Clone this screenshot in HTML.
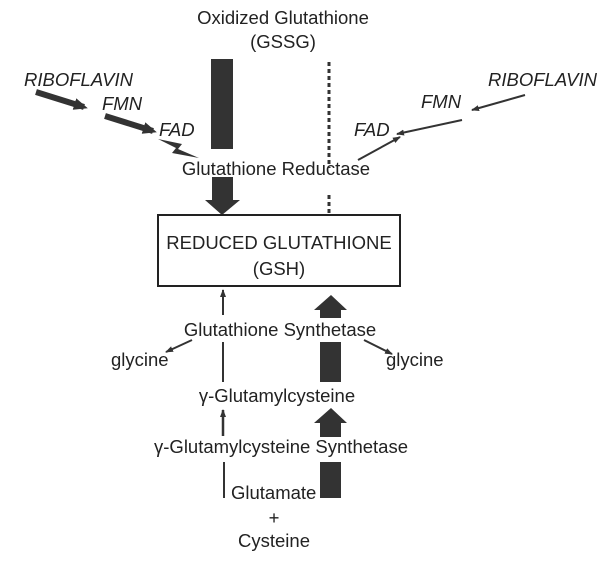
<!DOCTYPE html>
<html><head><style>
body{margin:0;background:#fff;}
svg text{font-family:"Liberation Sans",sans-serif;font-size:18.5px;fill:#222;}
</style></head><body>
<svg width="610" height="561" viewBox="0 0 610 561">
<defs>
<marker id="ah" markerWidth="8" markerHeight="6" refX="7" refY="3" orient="auto" markerUnits="userSpaceOnUse"><path d="M0,0 L8,3 L0,6 z" fill="#333"/></marker>
<marker id="ahb" markerWidth="14" markerHeight="12" refX="10" refY="6" orient="auto" markerUnits="userSpaceOnUse"><path d="M0,0 L14,6 L0,12 z" fill="#333"/></marker>
</defs>
<text x="283" y="24" text-anchor="middle">Oxidized Glutathione</text>
<text x="283" y="48" text-anchor="middle">(GSSG)</text>
<rect x="211" y="59" width="22" height="90" fill="#333"/>
<line x1="329" y1="62" x2="329" y2="168" stroke="#333" stroke-width="3" stroke-dasharray="4,3"/>
<line x1="329" y1="195" x2="329" y2="228" stroke="#333" stroke-width="3" stroke-dasharray="4,3"/>
<path d="M324,226 L334,226 L329,242 z" fill="#333"/>
<text x="276" y="175" text-anchor="middle">Glutathione Reductase</text>
<path d="M212,177 L233,177 L233,200 L240,200 L222,215 L205,200 L212,200 z" fill="#333"/>
<rect x="158" y="215" width="242" height="71" fill="#fff" stroke="#222" stroke-width="2"/>
<text x="279" y="249" text-anchor="middle">REDUCED GLUTATHIONE</text>
<text x="279" y="275" text-anchor="middle">(GSH)</text>
<text x="24" y="86" style="font-style:italic">RIBOFLAVIN</text>
<text x="102" y="110" style="font-style:italic">FMN</text>
<text x="159" y="136" style="font-style:italic">FAD</text>
<text x="488" y="86" style="font-style:italic">RIBOFLAVIN</text>
<text x="421" y="108" style="font-style:italic">FMN</text>
<text x="354" y="136" style="font-style:italic">FAD</text>
<line x1="36" y1="92" x2="84" y2="107" stroke="#333" stroke-width="6" marker-end="url(#ahb)"/>
<line x1="105" y1="116" x2="153" y2="131" stroke="#333" stroke-width="6" marker-end="url(#ahb)"/>
<path d="M158,139 L182,144 L178,149 L199,158 L172,153 L176,148 z" fill="#333"/>
<line x1="525" y1="95" x2="472" y2="110" stroke="#333" stroke-width="2" marker-end="url(#ah)"/>
<line x1="462" y1="120" x2="397" y2="134" stroke="#333" stroke-width="2" marker-end="url(#ah)"/>
<line x1="358" y1="160" x2="400" y2="137" stroke="#333" stroke-width="2" marker-end="url(#ah)"/>
<!-- bottom -->
<line x1="223" y1="315" x2="223" y2="290" stroke="#333" stroke-width="2" marker-end="url(#ah)"/>
<line x1="223" y1="342" x2="223" y2="382" stroke="#333" stroke-width="2"/>
<path d="M331,295 L347,310 L341,310 L341,318 L320,318 L320,310 L314,310 z" fill="#333"/>
<text x="280" y="336" text-anchor="middle">Glutathione Synthetase</text>
<text x="111" y="366">glycine</text>
<text x="386" y="366">glycine</text>
<line x1="192" y1="340" x2="166" y2="352" stroke="#333" stroke-width="2" marker-end="url(#ah)"/>
<line x1="364" y1="340" x2="392" y2="354" stroke="#333" stroke-width="2" marker-end="url(#ah)"/>
<rect x="320" y="342" width="21" height="40" fill="#333"/>
<text x="277" y="402" text-anchor="middle">γ-Glutamylcysteine</text>
<line x1="223" y1="436" x2="223" y2="410" stroke="#333" stroke-width="2.5" marker-end="url(#ah)"/>
<path d="M331,408 L347,423 L341,423 L341,437 L320,437 L320,423 L314,423 z" fill="#333"/>
<text x="281" y="453" text-anchor="middle">γ-Glutamylcysteine Synthetase</text>
<line x1="224" y1="462" x2="224" y2="498" stroke="#333" stroke-width="2"/>
<text x="231" y="499">Glutamate</text>
<rect x="320" y="462" width="21" height="36" fill="#333"/>
<text x="274" y="524" text-anchor="middle">+</text>
<text x="274" y="547" text-anchor="middle">Cysteine</text>
</svg>
</body></html>
